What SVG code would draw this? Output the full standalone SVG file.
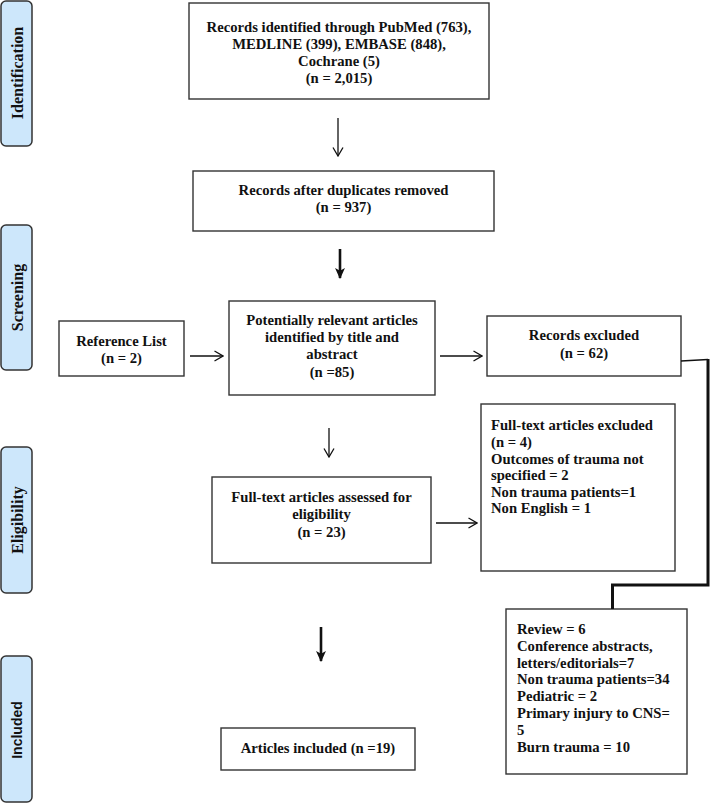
<svg xmlns="http://www.w3.org/2000/svg" width="710" height="803" viewBox="0 0 710 803">
<style>
.box{fill:#fff;stroke:#333;stroke-width:1.4}
.side{fill:#cde7fb;stroke:#333;stroke-width:1.5}
.t{font-family:"Liberation Serif","Times New Roman",serif;font-weight:bold;font-size:14.67px;fill:#111}
.c{text-anchor:middle}
.lab{font-family:"Liberation Serif","Times New Roman",serif;font-weight:bold;font-size:16px;fill:#111;text-anchor:middle}
.labs{font-family:"Liberation Sans",Arial,sans-serif;font-weight:bold;font-size:14px;fill:#111;text-anchor:middle}
.thin{stroke:#111;stroke-width:1.3;fill:none}
.thick{stroke:#111;stroke-width:2.6;fill:none}
.bar{stroke:#111;stroke-width:3;fill:none}
</style>
<defs>
<marker id="v" viewBox="0 0 10 12" refX="9.5" refY="6" markerWidth="10" markerHeight="12" markerUnits="userSpaceOnUse" orient="auto"><path d="M1,1 L9.5,6 L1,11" fill="none" stroke="#111" stroke-width="1.3"/></marker>
<marker id="h" viewBox="0 0 10 10" refX="9" refY="5" markerWidth="11" markerHeight="11" markerUnits="userSpaceOnUse" orient="auto"><path d="M0,0.5 L10,5 L0,9.5 L2.5,5 Z" fill="#111"/></marker>
</defs>

<g id="side-identification"><rect class="side" x="1" y="1" width="31" height="145" rx="5"/><text class="lab" transform="translate(22.5,73) rotate(-90)">Identification</text></g>
<g id="side-screening"><rect class="side" x="1" y="225" width="31" height="145" rx="5"/><text class="lab" transform="translate(22.5,297.5) rotate(-90)">Screening</text></g>
<g id="side-eligibility"><rect class="side" x="1" y="447" width="31" height="146" rx="5"/><text class="lab" transform="translate(22.5,520) rotate(-90)">Eligibility</text></g>
<g id="side-included"><rect class="side" x="1" y="656" width="31" height="146" rx="5"/><text class="labs" transform="translate(22,730) rotate(-90)">Included</text></g>

<g id="records-identified"><rect class="box" x="189" y="3" width="300" height="96"/>
<text class="t c" x="339"><tspan x="339" y="32">Records identified through PubMed (763),</tspan><tspan x="339" y="49">MEDLINE (399), EMBASE (848),</tspan><tspan x="339" y="66">Cochrane (5)</tspan><tspan x="339" y="83">(n = 2,015)</tspan></text></g>

<g id="after-duplicates"><rect class="box" x="193" y="171" width="301" height="60"/>
<text class="t c"><tspan x="343.5" y="195">Records after duplicates removed</tspan><tspan x="343.5" y="212">(n = 937)</tspan></text></g>

<g id="reference-list"><rect class="box" x="59" y="321" width="125" height="55"/>
<text class="t c"><tspan x="121.5" y="346">Reference List</tspan><tspan x="121.5" y="363">(n = 2)</tspan></text></g>

<g id="potentially-relevant"><rect class="box" x="229" y="301" width="206" height="94"/>
<text class="t c"><tspan x="332" y="325">Potentially relevant articles</tspan><tspan x="332" y="342">identified by title and</tspan><tspan x="332" y="359">abstract</tspan><tspan x="332" y="377">(n =85)</tspan></text></g>

<g id="records-excluded"><rect class="box" x="487" y="316" width="194" height="60"/>
<text class="t c"><tspan x="584" y="340">Records excluded</tspan><tspan x="584" y="358">(n = 62)</tspan></text></g>

<g id="fulltext-excluded"><rect class="box" x="481" y="404" width="194" height="167"/>
<text class="t"><tspan x="491" y="430">Full-text articles excluded</tspan><tspan x="491" y="447">(n = 4)</tspan><tspan x="491" y="464">Outcomes of trauma not</tspan><tspan x="491" y="480">specified = 2</tspan><tspan x="491" y="497">Non trauma patients=1</tspan><tspan x="491" y="513">Non English = 1</tspan></text></g>

<g id="fulltext-assessed"><rect class="box" x="212" y="477" width="219" height="86"/>
<text class="t c"><tspan x="321.5" y="502">Full-text articles assessed for</tspan><tspan x="321.5" y="519">eligibility</tspan><tspan x="321.5" y="537">(n = 23)</tspan></text></g>

<g id="articles-included"><rect class="box" x="221" y="728" width="194" height="42"/>
<text class="t c" x="318" y="753">Articles included (n =19)</text></g>

<g id="exclusion-reasons"><rect class="box" x="506" y="609" width="181" height="165"/>
<text class="t"><tspan x="517" y="634">Review = 6</tspan><tspan x="517" y="651">Conference abstracts,</tspan><tspan x="517" y="668">letters/editorials=7</tspan><tspan x="517" y="684">Non trauma patients=34</tspan><tspan x="517" y="701">Pediatric = 2</tspan><tspan x="517" y="718">Primary injury to CNS=</tspan><tspan x="517" y="735">5</tspan><tspan x="517" y="752">Burn trauma = 10</tspan></text></g>

<g id="connectors">
<line class="thin" x1="338" y1="118" x2="338" y2="156" marker-end="url(#v)"/>
<line class="thick" x1="340" y1="249" x2="340" y2="278" marker-end="url(#h)"/>
<line class="thin" x1="190" y1="356" x2="223" y2="356" marker-end="url(#v)"/>
<line class="thin" x1="440" y1="356" x2="482" y2="356" marker-end="url(#v)"/>
<line class="thin" x1="329" y1="428" x2="329" y2="457" marker-end="url(#v)"/>
<line class="thin" x1="436" y1="523" x2="477" y2="523" marker-end="url(#v)"/>
<line class="thick" x1="321" y1="627" x2="321" y2="661" marker-end="url(#h)"/>
<path class="thin" d="M681,361 L708,359.5"/>
<path class="bar" d="M708,359 V585 H612.5 V609"/>
</g>
</svg>
